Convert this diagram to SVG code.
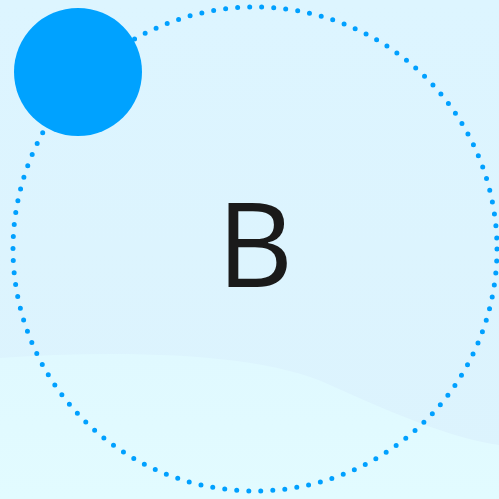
<svg xmlns="http://www.w3.org/2000/svg" width="499" height="499" viewBox="0 0 499 499">
<defs>
<linearGradient id="bg" x1="0" y1="0" x2="0" y2="1">
<stop offset="0" stop-color="#DDF5FF"/>
<stop offset="1" stop-color="#DCF3FD"/>
</linearGradient>
<linearGradient id="wave" x1="0" y1="0" x2="0" y2="1">
<stop offset="0" stop-color="#E0F9FF"/>
<stop offset="1" stop-color="#E2FBFF"/>
</linearGradient>
<style>
.ring{fill:none;stroke:#00A0FF;stroke-width:5;stroke-linecap:round;stroke-dasharray:0 12.07}
.dot{fill:#00A2FF}
.lbl{font-family:"Open Sans","Noto Sans",sans-serif;font-size:118px;fill:#1A1A1A;text-anchor:middle}
</style>
</defs>
<rect width="499" height="499" fill="url(#bg)"/>
<path d="M0 358 C120 350 260 352 330 385 C390 412 450 438 499 445 L499 499 L0 499 Z" fill="url(#wave)"/>
<g id="connectors">
<circle class="ring" cx="255" cy="249" r="242"/>
</g>
<g id="node-dot">
<circle class="dot" cx="78" cy="72" r="64"/>
</g>
<g id="node-B">
<text class="lbl" x="255" y="287">B</text>
</g>
</svg>
